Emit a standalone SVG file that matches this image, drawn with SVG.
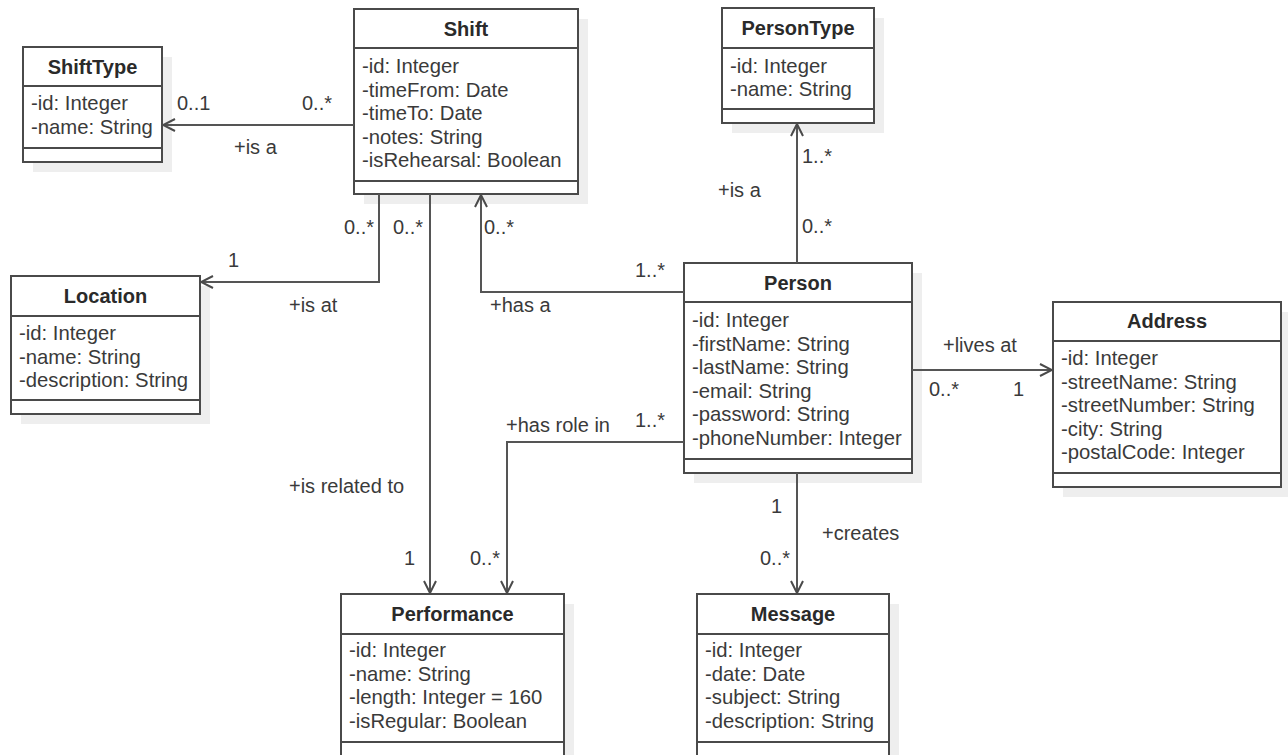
<svg xmlns="http://www.w3.org/2000/svg" width="1288" height="755" viewBox="0 0 1288 755">
<style>
.bg{fill:#ffffff}
.sh{fill:#eeeeee}
.box{fill:#ffffff;stroke:#4a4a4a;stroke-width:2}
.sep{stroke:#4a4a4a;stroke-width:2}
.ttl{font-family:"Liberation Sans",Arial,sans-serif;font-size:20px;font-weight:bold;fill:#2a2a2a;text-anchor:middle}
.att{font-family:"Liberation Sans",Arial,sans-serif;font-size:20.3px;fill:#3a3a3a}
.lbl{font-family:"Liberation Sans",Arial,sans-serif;font-size:20px;fill:#3a3a3a}
.end{text-anchor:end}
.ln{fill:none;stroke:#555555;stroke-width:2}
</style>
<defs>
<marker id="open" viewBox="0 0 14 14" refX="13" refY="7" markerWidth="14" markerHeight="14" markerUnits="userSpaceOnUse" orient="auto">
<path d="M1,1 L13,7 L1,13" fill="none" stroke="#4a4a4a" stroke-width="2"/>
</marker>
</defs>
<rect class="bg" x="0" y="0" width="1288" height="755"/>

<g id="ShiftType">
<rect class="sh" x="33" y="57" width="139" height="115"/>
<rect class="box" x="23" y="47" width="139" height="115"/>
<line class="sep" x1="23" y1="86" x2="162" y2="86"/>
<line class="sep" x1="23" y1="148" x2="162" y2="148"/>
<text class="ttl" x="92.5" y="74">ShiftType</text>
<text class="att" x="31" y="110">-id: Integer</text>
<text class="att" x="31" y="133.5">-name: String</text>
</g>

<g id="Shift">
<rect class="sh" x="364" y="19" width="224" height="185"/>
<rect class="box" x="354" y="9" width="224" height="185"/>
<line class="sep" x1="354" y1="48" x2="578" y2="48"/>
<line class="sep" x1="354" y1="181" x2="578" y2="181"/>
<text class="ttl" x="466" y="36">Shift</text>
<text class="att" x="362" y="73">-id: Integer</text>
<text class="att" x="362" y="96.5">-timeFrom: Date</text>
<text class="att" x="362" y="120">-timeTo: Date</text>
<text class="att" x="362" y="143.5">-notes: String</text>
<text class="att" x="362" y="167">-isRehearsal: Boolean</text>
</g>

<g id="PersonType">
<rect class="sh" x="732" y="18" width="152" height="115"/>
<rect class="box" x="722" y="8" width="152" height="115"/>
<line class="sep" x1="722" y1="48" x2="874" y2="48"/>
<line class="sep" x1="722" y1="109" x2="874" y2="109"/>
<text class="ttl" x="798" y="35">PersonType</text>
<text class="att" x="730" y="72.5">-id: Integer</text>
<text class="att" x="730" y="96">-name: String</text>
</g>

<g id="Location">
<rect class="sh" x="21" y="286" width="189" height="138"/>
<rect class="box" x="11" y="276" width="189" height="138"/>
<line class="sep" x1="11" y1="316" x2="200" y2="316"/>
<line class="sep" x1="11" y1="400" x2="200" y2="400"/>
<text class="ttl" x="105.5" y="303">Location</text>
<text class="att" x="19" y="340">-id: Integer</text>
<text class="att" x="19" y="363.5">-name: String</text>
<text class="att" x="19" y="387">-description: String</text>
</g>

<g id="Person">
<rect class="sh" x="694" y="273" width="228" height="210"/>
<rect class="box" x="684" y="263" width="228" height="210"/>
<line class="sep" x1="684" y1="302" x2="912" y2="302"/>
<line class="sep" x1="684" y1="459" x2="912" y2="459"/>
<text class="ttl" x="798" y="290">Person</text>
<text class="att" x="692" y="327">-id: Integer</text>
<text class="att" x="692" y="350.5">-firstName: String</text>
<text class="att" x="692" y="374">-lastName: String</text>
<text class="att" x="692" y="397.5">-email: String</text>
<text class="att" x="692" y="421">-password: String</text>
<text class="att" x="692" y="444.5">-phoneNumber: Integer</text>
</g>

<g id="Address">
<rect class="sh" x="1063" y="312" width="228" height="185"/>
<rect class="box" x="1053" y="302" width="228" height="185"/>
<line class="sep" x1="1053" y1="341" x2="1281" y2="341"/>
<line class="sep" x1="1053" y1="473" x2="1281" y2="473"/>
<text class="ttl" x="1167" y="328">Address</text>
<text class="att" x="1061" y="365">-id: Integer</text>
<text class="att" x="1061" y="388.5">-streetName: String</text>
<text class="att" x="1061" y="412">-streetNumber: String</text>
<text class="att" x="1061" y="435.5">-city: String</text>
<text class="att" x="1061" y="459">-postalCode: Integer</text>
</g>

<g id="Performance">
<rect class="sh" x="351" y="604" width="223" height="170"/>
<rect class="box" x="341" y="594" width="223" height="170"/>
<line class="sep" x1="341" y1="634" x2="564" y2="634"/>
<line class="sep" x1="341" y1="742" x2="564" y2="742"/>
<text class="ttl" x="452.5" y="621">Performance</text>
<text class="att" x="349" y="657">-id: Integer</text>
<text class="att" x="349" y="680.5">-name: String</text>
<text class="att" x="349" y="704">-length: Integer = 160</text>
<text class="att" x="349" y="727.5">-isRegular: Boolean</text>
</g>

<g id="Message">
<rect class="sh" x="707" y="604" width="192" height="170"/>
<rect class="box" x="697" y="594" width="192" height="170"/>
<line class="sep" x1="697" y1="634" x2="889" y2="634"/>
<line class="sep" x1="697" y1="742" x2="889" y2="742"/>
<text class="ttl" x="793" y="621">Message</text>
<text class="att" x="705" y="657">-id: Integer</text>
<text class="att" x="705" y="680.5">-date: Date</text>
<text class="att" x="705" y="704">-subject: String</text>
<text class="att" x="705" y="727.5">-description: String</text>
</g>

<g id="connectors">
<polyline class="ln" points="354,125 163,125" marker-end="url(#open)"/>
<polyline class="ln" points="379,194 379,282 201,282" marker-end="url(#open)"/>
<polyline class="ln" points="430,194 430,593" marker-end="url(#open)"/>
<polyline class="ln" points="684,292 481,292 481,195" marker-end="url(#open)"/>
<polyline class="ln" points="797,263 797,124" marker-end="url(#open)"/>
<polyline class="ln" points="912,370 1052,370" marker-end="url(#open)"/>
<polyline class="ln" points="684,442 507,442 507,593" marker-end="url(#open)"/>
<polyline class="ln" points="797,473 797,593" marker-end="url(#open)"/>

<text class="lbl" x="177" y="110">0..1</text>
<text class="lbl" x="302" y="110">0..*</text>
<text class="lbl" x="234" y="154">+is a</text>

<text class="lbl end" x="374" y="234">0..*</text>
<text class="lbl" x="228" y="267">1</text>
<text class="lbl" x="289" y="312">+is at</text>

<text class="lbl" x="393" y="234">0..*</text>
<text class="lbl" x="404" y="565">1</text>
<text class="lbl" x="289" y="493">+is related to</text>

<text class="lbl" x="635" y="277">1..*</text>
<text class="lbl" x="484" y="234">0..*</text>
<text class="lbl" x="490" y="312">+has a</text>

<text class="lbl" x="802" y="163">1..*</text>
<text class="lbl" x="802" y="233">0..*</text>
<text class="lbl" x="718" y="197">+is a</text>

<text class="lbl" x="943" y="352">+lives at</text>
<text class="lbl" x="929" y="396">0..*</text>
<text class="lbl" x="1013" y="396">1</text>

<text class="lbl" x="635" y="427">1..*</text>
<text class="lbl" x="506" y="432">+has role in</text>
<text class="lbl" x="470" y="565">0..*</text>

<text class="lbl" x="771" y="513">1</text>
<text class="lbl" x="822" y="540">+creates</text>
<text class="lbl" x="760" y="565">0..*</text>
</g>
</svg>
